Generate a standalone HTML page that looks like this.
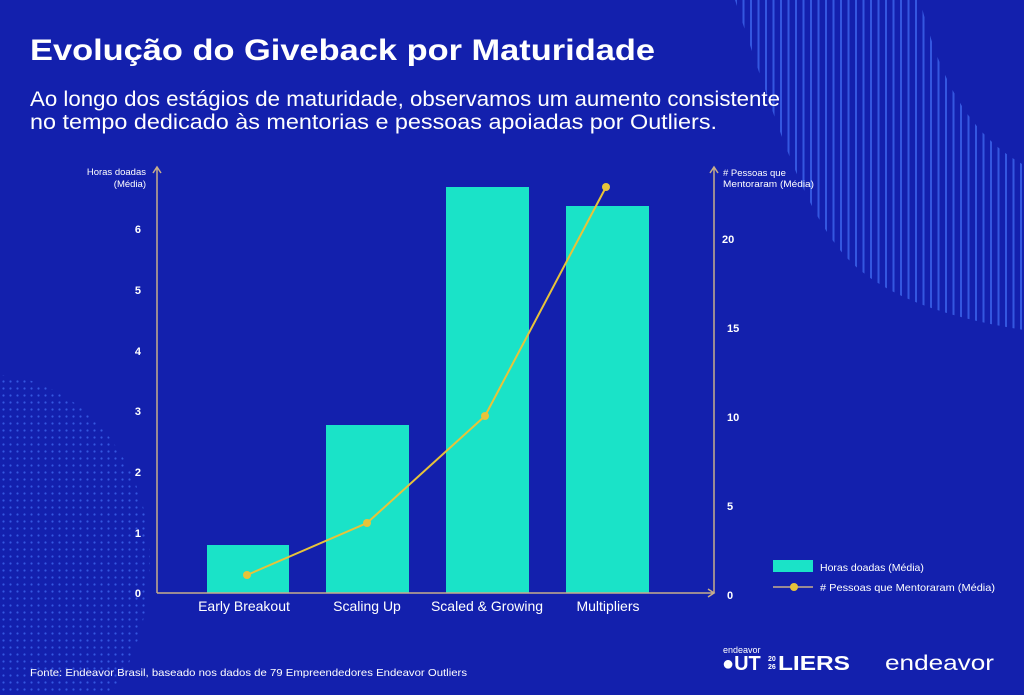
<!DOCTYPE html>
<html><head><meta charset="utf-8"><style>
body{margin:0;width:1024px;height:695px;overflow:hidden;background:#1320ad;font-family:"Liberation Sans",sans-serif;}
</style></head><body>
<svg width="1024" height="695" xmlns="http://www.w3.org/2000/svg" style="position:absolute;left:0;top:0">
<defs>
<pattern id="st" width="7.5" height="10" patternUnits="userSpaceOnUse"><rect x="0" y="0" width="2" height="10" fill="#3457e0"/></pattern>
<pattern id="dt" width="7" height="7" patternUnits="userSpaceOnUse"><circle cx="3.5" cy="3.5" r="1.1" fill="#3457e0"/></pattern>
</defs>
<rect width="1024" height="695" fill="#1320ad"/>
<path d="M735,0 L920,0 C935,60 960,130 1024,165 L1024,330 C960,320 880,300 840,250 C800,200 775,120 735,0Z" fill="url(#st)"/>
<path d="M0,375 C80,380 150,460 150,560 C150,620 130,670 110,695 L0,695Z" fill="url(#dt)"/>
<text x="30" y="60" fill="#fff" font-size="30" font-weight="bold" textLength="625" lengthAdjust="spacingAndGlyphs">Evolução do Giveback por Maturidade</text>
<text x="30" y="106" fill="#fff" font-size="21" textLength="750" lengthAdjust="spacingAndGlyphs">Ao longo dos estágios de maturidade, observamos um aumento consistente</text>
<text x="30" y="129" fill="#fff" font-size="21" textLength="687" lengthAdjust="spacingAndGlyphs">no tempo dedicado às mentorias e pessoas apoiadas por Outliers.</text>
<g fill="#fff" font-size="9.5">
<text x="146" y="175" text-anchor="end">Horas doadas</text>
<text x="146" y="187" text-anchor="end">(Média)</text>
<text x="723" y="176"># Pessoas que</text>
<text x="723" y="187" textLength="91" lengthAdjust="spacingAndGlyphs">Mentoraram (Média)</text>
</g>
<g fill="#fff" font-size="11" font-weight="bold" text-anchor="end">
<text x="141" y="597">0</text><text x="141" y="537">1</text><text x="141" y="476">2</text><text x="141" y="415">3</text><text x="141" y="355">4</text><text x="141" y="294">5</text><text x="141" y="233">6</text>
</g>
<g fill="#fff" font-size="11" font-weight="bold">
<text x="727" y="599">0</text><text x="727" y="510">5</text><text x="727" y="421">10</text><text x="727" y="332">15</text><text x="722" y="243">20</text>
</g>
<g fill="#1ae3c8">
<rect x="207" y="545" width="82" height="48"/>
<rect x="326" y="425" width="83" height="168"/>
<rect x="446" y="187" width="83" height="406"/>
<rect x="566" y="206" width="83" height="387"/>
</g>
<g stroke="#c7ad8c" stroke-width="1.5" fill="none">
<path d="M157,593 V168 M153,173 L157,167 L161,173"/>
<path d="M714,593 V168 M710,173 L714,167 L718,173"/>
<path d="M157,593 H714 M708,589 L714,593 L708,597"/>
</g>
<polyline points="247,575 367,523 485,416 606,187" fill="none" stroke="#e7c33a" stroke-width="2"/>
<g fill="#e7c33a"><circle cx="247" cy="575" r="4"/><circle cx="367" cy="523" r="4"/><circle cx="485" cy="416" r="4"/><circle cx="606" cy="187" r="4"/></g>
<g fill="#fff" font-size="14" text-anchor="middle">
<text x="244" y="611">Early Breakout</text><text x="367" y="611">Scaling Up</text><text x="487" y="611">Scaled &amp; Growing</text><text x="608" y="611">Multipliers</text>
</g>
<rect x="773" y="560" width="40" height="12" fill="#1ae3c8"/>
<text x="820" y="571" fill="#fff" font-size="10.5">Horas doadas (Média)</text>
<line x1="773" y1="587" x2="813" y2="587" stroke="#c7ad8c" stroke-width="1.5"/>
<circle cx="794" cy="587" r="4" fill="#e7c33a"/>
<text x="820" y="591" fill="#fff" font-size="10.5" textLength="175" lengthAdjust="spacingAndGlyphs"># Pessoas que Mentoraram (Média)</text>
<text x="30" y="676" fill="#fff" font-size="10.5" textLength="437" lengthAdjust="spacingAndGlyphs">Fonte: Endeavor Brasil, baseado nos dados de 79 Empreendedores Endeavor Outliers</text>
<text x="723" y="653" fill="#fff" font-size="9">endeavor</text>
<text x="722" y="670" fill="#fff" font-size="20" font-weight="bold">●UT</text>
<text x="768" y="661" fill="#fff" font-size="7" font-weight="bold">20</text>
<text x="768" y="669" fill="#fff" font-size="7" font-weight="bold">26</text>
<text x="778" y="670" fill="#fff" font-size="20" font-weight="bold" textLength="72" lengthAdjust="spacingAndGlyphs">LIERS</text>
<text x="885" y="670" fill="#fff" font-size="21" textLength="109" lengthAdjust="spacingAndGlyphs">endeavor</text>
</svg>
</body></html>
